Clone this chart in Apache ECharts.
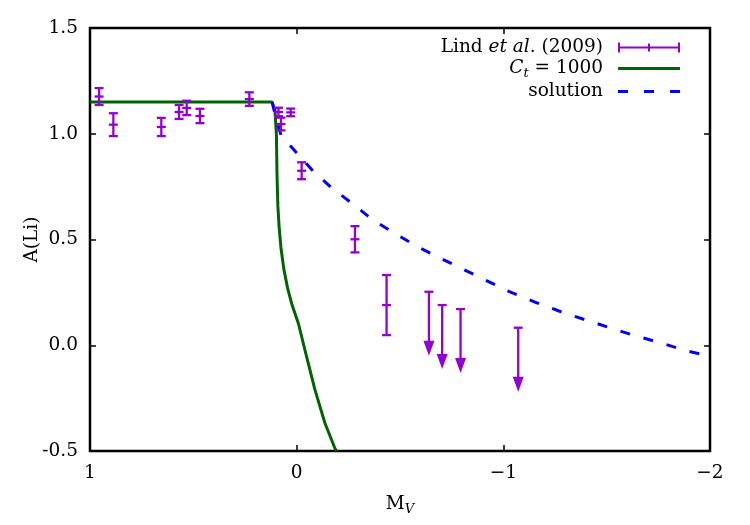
<!DOCTYPE html>
<html>
<head>
<meta charset="utf-8">
<script src="https://cdn.jsdelivr.net/npm/echarts@6/dist/echarts.min.js"></script>
<style>
  html, body { margin: 0; background: #fff; }
  #chart { width: 750px; height: 525px; }
</style>
</head>
<body>
<div id="chart"></div>
<script>
// Lind et al. (2009) measurements: M_V, A(Li), error
const lindMv = [0.956, 0.887, 0.655, 0.569, 0.532, 0.468, 0.229, 0.088, 0.076, 0.029, -0.024, -0.282, -0.435];
const lindA = [1.176, 1.043, 1.032, 1.103, 1.122, 1.084, 1.164, 1.103, 1.046, 1.101, 0.825, 0.501, 0.190];
const lindErr = [0.040, 0.054, 0.043, 0.033, 0.034, 0.034, 0.032, 0.020, 0.030, 0.018, 0.040, 0.062, 0.142];

// upper limits (arrows)
const limMv = [-0.640, -0.704, -0.793, -1.072];
const limA = [0.253, 0.190, 0.171, 0.083];

// C_t = 1000 model
const ctMv = [1.0, 0.119, 0.105, 0.098, 0.095, 0.091, 0.085, 0.076, 0.062, 0.044, 0.022, -0.008, -0.048, -0.089, -0.137, -0.185, -0.193];
const ctA = [1.150, 1.150, 1.112, 0.994, 0.800, 0.660, 0.560, 0.460, 0.360, 0.270, 0.190, 0.104, -0.054, -0.212, -0.369, -0.487, -0.500];

// solution
const solMv = [0.119, 0.100, 0.076, 0.008, -0.079, -0.171, -0.272, -0.369, -0.480, -0.587, -0.693, -1.032, -1.153, -1.269, -1.385, -1.506, -1.627, -1.762, -1.888, -2.0];
const solA = [1.150, 1.074, 0.994, 0.918, 0.824, 0.743, 0.668, 0.592, 0.526, 0.465, 0.413, 0.252, 0.204, 0.162, 0.124, 0.086, 0.048, 0.011, -0.027, -0.051];

const xTicks = [-2, -1, 0, 1];

const font = 'DejaVu Serif';
const fs = 18.5;
const purple = '#9400d3';
const green = '#006400';
const blue = '#0000ff';

const zip = (a, b, c) => a.map((v, i) => (c ? [v, b[i], c[i]] : [v, b[i]]));

const seg = (x1, y1, x2, y2, style) => ({ type: 'line', shape: { x1, y1, x2, y2 }, style });

function renderErr(params, api) {
  const x = api.value(0), a = api.value(1), e = api.value(2);
  const hi = api.coord([x, a + e]);
  const lo = api.coord([x, a - e]);
  const mid = api.coord([x, a]);
  const style = { stroke: purple, lineWidth: 2.3 };
  const cap = 4.5;
  return {
    type: 'group',
    children: [
      seg(hi[0], hi[1], lo[0], lo[1], style),
      seg(hi[0] - cap, hi[1], hi[0] + cap, hi[1], style),
      seg(lo[0] - cap, lo[1], lo[0] + cap, lo[1], style),
      seg(mid[0] - cap, mid[1], mid[0] + cap, mid[1], style),
    ],
  };
}

function renderLimit(params, api) {
  const p = api.coord([api.value(0), api.value(1)]);
  const style = { stroke: purple, lineWidth: 2.3 };
  const len = 64, headH = 15, headW = 5.5;
  return {
    type: 'group',
    children: [
      seg(p[0] - 4.5, p[1], p[0] + 4.5, p[1], style),
      seg(p[0], p[1], p[0], p[1] + len - headH + 2, style),
      {
        type: 'polygon',
        shape: { points: [[p[0] - headW, p[1] + len - headH], [p[0] + headW, p[1] + len - headH], [p[0], p[1] + len]] },
        style: { fill: purple },
      },
    ],
  };
}

const tickStyle = { inside: true, length: 6, lineStyle: { color: '#000', width: 1.5 } };
const noLine = { show: false, onZero: false };

const chart = echarts.init(document.getElementById('chart'));
chart.setOption({
  animation: false,
  grid: { left: 90, right: 40, top: 28, bottom: 74, show: true, borderColor: '#000', borderWidth: 2.5 },
  legend: {
    orient: 'vertical',
    align: 'right',
    right: 65,
    top: 33,
    itemWidth: 62,
    itemHeight: 10,
    itemGap: 2,
    data: [
      { name: 'lind', icon: 'path://M0,4 L62,4 L62,6 L0,6 Z M0,0 L2,0 L2,10 L0,10 Z M60,0 L62,0 L62,10 L60,10 Z M30,1 L32,1 L32,9 L30,9 Z' },
      { name: 'ct', icon: 'path://M0,0 M0,3.5 L62,3.5 L62,6.5 L0,6.5 Z M62,10' },
      { name: 'solution', icon: 'path://M0,0 M0,3.5 L10,3.5 L10,6.5 L0,6.5 Z M26,3.5 L36,3.5 L36,6.5 L26,6.5 Z M52,3.5 L62,3.5 L62,6.5 L52,6.5 Z M62,10' },
    ],
    formatter: function (name) {
      if (name === 'lind') return '{n|Lind }{i|et al}{n|. (2009)}{g|}';
      if (name === 'ct') return '{i|C}{sub|t}{n| = 1000}{g|}';
      return '{n|solution}{g|}';
    },
    textStyle: {
      fontFamily: font,
      fontSize: fs,
      color: '#000',
      rich: {
        n: { fontFamily: font, fontSize: fs, color: '#000', lineHeight: 21 },
        i: { fontFamily: font, fontSize: fs, fontStyle: 'italic', color: '#000', lineHeight: 21 },
        sub: { fontFamily: font, fontSize: 13, fontStyle: 'italic', color: '#000', padding: [10, 0, 0, 0] },
        g: { width: 10 },
      },
    },
  },
  xAxis: [
    {
      type: 'value', min: -2, max: 1, interval: 1, inverse: true, position: 'bottom',
      axisLine: noLine, splitLine: { show: false }, axisTick: tickStyle,
      axisLabel: {
        margin: 13, color: '#000', fontFamily: font, fontSize: fs,
        formatter: (v) => (xTicks.includes(v) ? (v < 0 ? '\u2212' + (-v) : String(v)) : ''),
      },
      name: '{m|M}{s|V}', nameLocation: 'middle', nameGap: 42,
      nameTextStyle: {
        rich: {
          m: { fontFamily: font, fontSize: fs, color: '#000' },
          s: { fontFamily: font, fontSize: 13, fontStyle: 'italic', color: '#000', padding: [10, 0, 0, 0] },
        },
      },
    },
    {
      type: 'value', min: -2, max: 1, interval: 1, inverse: true, position: 'top',
      axisLine: noLine, splitLine: { show: false }, axisTick: tickStyle, axisLabel: { show: false },
    },
  ],
  yAxis: [
    {
      type: 'value', min: -0.5, max: 1.5, interval: 0.5, position: 'left',
      axisLine: noLine, splitLine: { show: false }, axisTick: tickStyle,
      axisLabel: { margin: 12, color: '#000', fontFamily: font, fontSize: fs, formatter: (v) => v.toFixed(1) },
      name: 'A(Li)', nameLocation: 'middle', nameGap: 48, nameMoveOverlap: false,
      nameTextStyle: { fontFamily: font, fontSize: fs, color: '#000' },
    },
    {
      type: 'value', min: -0.5, max: 1.5, interval: 0.5, position: 'right',
      axisLine: noLine, splitLine: { show: false }, axisTick: tickStyle, axisLabel: { show: false },
    },
  ],
  series: [
    {
      name: 'ct', type: 'line', data: zip(ctMv, ctA), symbol: 'none',
      lineStyle: { color: green, width: 3 }, itemStyle: { color: green }, z: 2,
    },
    {
      name: 'solution', type: 'line', data: zip(solMv, solA), symbol: 'none',
      lineStyle: { color: blue, width: 3, type: [10, 14] }, itemStyle: { color: blue }, z: 3,
    },
    {
      name: 'lind', type: 'custom', renderItem: renderErr, data: zip(lindMv, lindA, lindErr),
      encode: { x: 0, y: 1 }, itemStyle: { color: purple }, z: 4,
    },
    {
      name: 'lindLimits', type: 'custom', renderItem: renderLimit, data: zip(limMv, limA),
      encode: { x: 0, y: 1 }, itemStyle: { color: purple }, z: 4,
    },
  ],
});
</script>
</body>
</html>
